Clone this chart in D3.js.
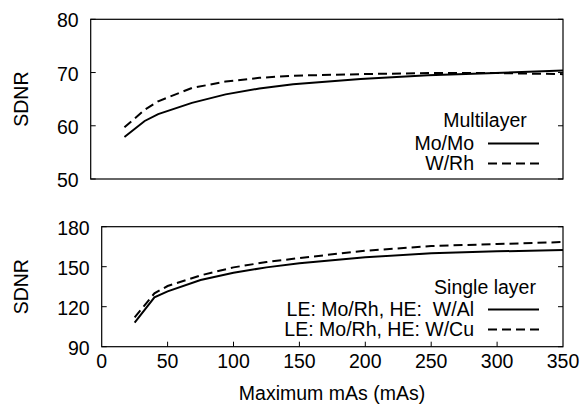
<!DOCTYPE html>
<html>
<head>
<meta charset="utf-8">
<script src="https://cdn.jsdelivr.net/npm/d3@7"></script>
<style>
  body { margin: 0; background: #fff; }
  text { font-family: "Liberation Sans", Arial, sans-serif; fill: #000; }
</style>
</head>
<body>
<div id="chart"></div>
<script>
// mAs values shared by all curves
let mas = [25, 40, 50, 75, 100, 125, 150, 200, 250, 300, 350];

// Multilayer panel
let moMo = [57.9, 60.9, 62.2, 64.3, 65.9, 67.0, 67.8, 68.8, 69.5, 69.9, 70.4];
let wRh  = [59.7, 63.0, 64.6, 67.1, 68.3, 69.0, 69.4, 69.7, 69.9, 69.9, 69.7];

// Single layer panel
let wAl = [108, 127, 131.5, 140, 145.5, 149.5, 152.5, 157, 160, 161.5, 162.5];
let wCu = [112, 130, 135.5, 143.5, 149.5, 153.5, 156.5, 162, 165.5, 167, 168.5];

let topTicks = [50, 60, 70, 80];
let bottomTicks = [90, 120, 150, 180];
let xTicks = [0, 50, 100, 150, 200, 250, 300, 350];

let width = 584, height = 407;
let fontSize = "19.5px";

let svg = d3.select("#chart")
    .append("svg")
    .attr("width", width)
    .attr("height", height);

function drawPanel(opts) {
    let x = d3.scaleLinear().domain([0, 350]).range([opts.left, 563]);
    let y = d3.scaleLinear().domain(opts.yDomain).range([opts.bottom, opts.top]);
    let tick = 5;

    let g = svg.append("g");

    // y ticks on both sides, labels on the left
    opts.yTicks.forEach(v => {
        g.append("line")
            .attr("x1", x.range()[0]).attr("x2", x.range()[0] + tick)
            .attr("y1", y(v)).attr("y2", y(v))
            .attr("stroke", "#000").attr("stroke-width", 1);
        g.append("line")
            .attr("x1", x.range()[1]).attr("x2", x.range()[1] - tick)
            .attr("y1", y(v)).attr("y2", y(v))
            .attr("stroke", "#000").attr("stroke-width", 1);
        g.append("text")
            .attr("x", x.range()[0] - 12)
            .attr("y", y(v) + 8)
            .attr("text-anchor", "end")
            .attr("font-size", fontSize)
            .text(v);
    });

    // x ticks only on the bottom panel
    if (opts.xLabels) {
        xTicks.forEach(v => {
            if (v > 0 && v < 350) {
                g.append("line")
                    .attr("x1", x(v)).attr("x2", x(v))
                    .attr("y1", opts.bottom).attr("y2", opts.bottom - tick)
                    .attr("stroke", "#000").attr("stroke-width", 1);
            }
            g.append("text")
                .attr("x", x(v))
                .attr("y", opts.bottom + 21.5)
                .attr("text-anchor", "middle")
                .attr("font-size", fontSize)
                .text(v);
        });
    }

    // frame
    g.append("rect")
        .attr("x", x.range()[0])
        .attr("y", opts.top)
        .attr("width", x.range()[1] - x.range()[0])
        .attr("height", opts.bottom - opts.top)
        .attr("fill", "none")
        .attr("stroke", "#000")
        .attr("stroke-width", 1.2);

    // y axis title
    g.append("text")
        .attr("transform", `translate(28,${(opts.top + opts.bottom) / 2}) rotate(-90)`)
        .attr("text-anchor", "middle")
        .attr("font-size", fontSize)
        .text("SDNR");

    let line = d3.line()
        .x((d, i) => x(mas[i]))
        .y(d => y(d));

    opts.series.forEach(s => {
        g.append("path")
            .datum(s.values)
            .attr("d", line)
            .attr("fill", "none")
            .attr("stroke", "#000")
            .attr("stroke-width", 2)
            .attr("stroke-dasharray", s.dash ? "9,5" : null);
    });

    // legend
    g.append("text")
        .attr("x", 485)
        .attr("y", opts.legendTop)
        .attr("text-anchor", "middle")
        .attr("font-size", fontSize)
        .text(opts.legendTitle);

    opts.series.forEach((s, i) => {
        let ly = opts.legendTop + opts.legendGap + i * 20;
        g.append("text")
            .attr("x", 474)
            .attr("y", ly)
            .attr("text-anchor", "end")
            .attr("font-size", fontSize)
            .style("white-space", "pre")
            .text(s.name);
        g.append("line")
            .attr("x1", 488).attr("x2", 539)
            .attr("y1", ly - 6.5).attr("y2", ly - 6.5)
            .attr("stroke", "#000")
            .attr("stroke-width", 2)
            .attr("stroke-dasharray", s.dash ? "9,5" : null);
    });
}

drawPanel({
    left: 90.7, top: 19.3, bottom: 179,
    yDomain: [50, 80], yTicks: topTicks, xLabels: false,
    legendTitle: "Multilayer", legendTop: 127, legendGap: 23,
    series: [
        { name: "Mo/Mo", values: moMo, dash: false },
        { name: "W/Rh", values: wRh, dash: true }
    ]
});

drawPanel({
    left: 101.7, top: 226.7, bottom: 346.7,
    yDomain: [90, 180], yTicks: bottomTicks, xLabels: true,
    legendTitle: "Single layer", legendTop: 294, legendGap: 22,
    series: [
        { name: "LE: Mo/Rh, HE:  W/Al", values: wAl, dash: false },
        { name: "LE: Mo/Rh, HE: W/Cu", values: wCu, dash: true }
    ]
});

// x axis title
svg.append("text")
    .attr("x", 332)
    .attr("y", 400)
    .attr("text-anchor", "middle")
    .attr("font-size", fontSize)
    .text("Maximum mAs (mAs)");
</script>
</body>
</html>
